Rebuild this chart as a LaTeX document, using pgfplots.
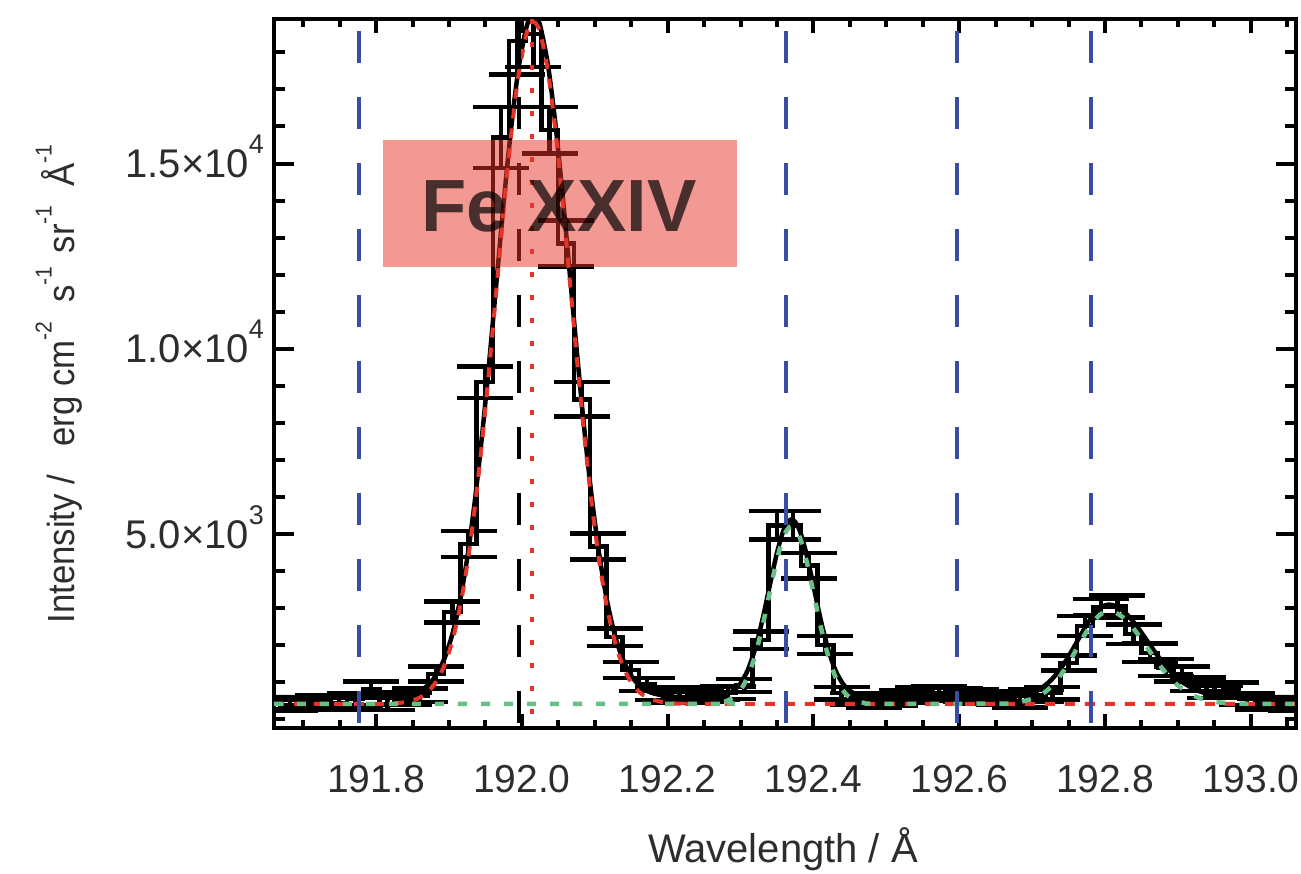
\documentclass[border=0pt]{standalone}
\usepackage{fontspec}
\setmainfont{Liberation Sans}
\usepackage{pgfplots}
\pgfplotsset{compat=1.18}
\definecolor{idlblue}{RGB}{56,78,165}
\definecolor{idlred}{RGB}{232,52,40}
\definecolor{idlgreen}{RGB}{104,192,136}
\definecolor{lab}{RGB}{45,45,45}
\newcommand{\tsup}[1]{\raisebox{0.6em}{\fontsize{13.5}{14}\selectfont #1}}
\newcommand{\lsup}[1]{\raisebox{0.62em}{\fontsize{11.5}{12}\selectfont #1}}
\begin{document}
\begin{tikzpicture}
\path[use as bounding box] (-137pt,-72.5pt) rectangle (513.5pt,364pt);
\begin{axis}[
  at={(0pt,0pt)}, anchor=south west,
  scale only axis, width=511pt, height=354.5pt,
  xmin=191.66, xmax=193.062, ymin=-230, ymax=18900,
  scaled y ticks=false, scaled x ticks=false,
  axis line style={line width=2pt},
  tick align=inside,
  tick style={line width=2pt, black},
  major tick length=10pt, minor tick length=5.5pt,
  xtick style={/pgfplots/major tick length=7pt,/pgfplots/minor tick length=4pt},
  xtick={191.8,192.0,192.2,192.4,192.6,192.8,193.0},
  xticklabels={191.8,192.0,192.2,192.4,192.6,192.8,193.0},
  minor xtick={191.70,191.75,191.85,191.90,191.95,192.05,192.10,192.15,192.25,192.30,192.35,192.45,192.50,192.55,192.65,192.70,192.75,192.85,192.90,192.95,193.05},
  ytick={5000,10000,15000},
  yticklabels={5.0×10\tsup{3},1.0×10\tsup{4},1.5×10\tsup{4}},
  minor ytick={0,1000,2000,3000,4000,6000,7000,8000,9000,11000,12000,13000,14000,16000,17000,18000},
  tick label style={font=\fontsize{19.5}{23}\selectfont, text=lab},
  xticklabel style={yshift=-15pt},
  yticklabel style={anchor=base east, yshift=-7pt, xshift=-1.5pt, font=\fontsize{20}{23}\selectfont},
  clip=true,
]
% spectrum (histogram with error bars)
\addplot[black, line width=2.25pt, const plot mark mid,
  error bars/.cd, y dir=both, y explicit, error mark=|,
  error bar style={line width=2.25pt, black},
  error mark options={line width=2.25pt, mark size=14pt, black}]
  table[x index=0, y index=1, y error index=2] {
191.6599 420 150
191.6822 380 150
191.7044 450 160
191.7267 500 160
191.7489 430 160
191.7712 550 170
191.7934 820 200
191.8157 420 160
191.8379 560 170
191.8602 650 180
191.8824 1230 200
191.9047 2900 280
191.9269 4730 350
191.9492 9100 430
191.9714 15700 820
191.9937 18300 900
192.0159 18500 900
192.0382 15900 630
192.0604 12840 620
192.0827 8640 470
192.1049 4670 350
192.1272 2220 240
192.1494 1330 215
192.1717 940 175
192.1939 700 170
192.2162 600 160
192.2384 640 165
192.2607 700 170
192.2829 720 170
192.3052 920 175
192.3274 2140 240
192.3497 5240 380
192.3719 5240 380
192.3942 4150 340
192.4164 2010 240
192.4387 710 170
192.4609 560 160
192.4832 480 160
192.5054 520 160
192.5277 620 165
192.5499 700 170
192.5722 720 170
192.5944 680 170
192.6167 650 165
192.6389 600 165
192.6612 560 160
192.6834 480 160
192.7057 650 165
192.7279 710 170
192.7502 1520 200
192.7724 2520 270
192.7947 3030 220
192.8169 3050 300
192.8392 2300 260
192.8614 1800 250
192.8837 1400 230
192.9059 1230 200
192.9282 950 180
192.9504 750 170
192.9727 820 180
192.9949 550 160
193.0172 430 160
193.0394 400 150
193.0617 380 150
};
% total fit
\addplot[black, line width=2.25pt, smooth] coordinates {
(191.66,600) (191.80,601) (191.816,608) (191.836,636) (191.856,734) (191.866,843) (191.876,1025) (191.886,1314) (191.896,1756) (191.906,2398) (191.916,3292) (191.926,4477) (191.936,5976) (191.946,7774) (191.956,9811) (191.966,11979) (191.976,14128) (191.986,16076) (191.996,17638) (192.006,18650) (192.011,18912) (192.016,19000) (192.021,18912) (192.026,18650) (192.036,17638) (192.046,16076) (192.056,14128) (192.066,11979) (192.076,9811) (192.086,7774) (192.096,5976) (192.106,4477) (192.116,3292) (192.126,2398) (192.136,1756) (192.146,1314) (192.156,1025) (192.166,843) (192.176,734) (192.196,636) (192.216,608) (192.25,600) (192.27,626) (192.28,671) (192.29,772) (192.30,975) (192.31,1338) (192.32,1907) (192.33,2688) (192.34,3605) (192.35,4498) (192.36,5157) (192.37,5400) (192.38,5157) (192.39,4498) (192.40,3605) (192.41,2688) (192.42,1907) (192.43,1338) (192.44,975) (192.45,772) (192.46,671) (192.47,626) (192.49,602) (192.66,608) (192.68,637) (192.705,767) (192.715,880) (192.725,1043) (192.735,1265) (192.745,1544) (192.755,1871) (192.765,2222) (192.775,2560) (192.785,2844) (192.795,3033) (192.805,3100) (192.815,3056) (192.825,2928) (192.835,2730) (192.845,2480) (192.855,2202) (192.865,1917) (192.875,1645) (192.885,1400) (192.895,1191) (192.905,1021) (192.925,793) (192.945,676) (192.965,626) (192.99,605) (193.062,600)
};
% Fe XXIV component
\addplot[idlred, line width=2pt, dash pattern=on 5pt off 5pt, smooth] coordinates {
(191.66,420) (191.80,421) (191.816,428) (191.836,456) (191.856,554) (191.866,663) (191.876,845) (191.886,1134) (191.896,1576) (191.906,2218) (191.916,3112) (191.926,4297) (191.936,5796) (191.946,7594) (191.956,9631) (191.966,11799) (191.976,13948) (191.986,15896) (191.996,17458) (192.006,18470) (192.011,18732) (192.016,18820) (192.021,18732) (192.026,18470) (192.036,17458) (192.046,15896) (192.056,13948) (192.066,11799) (192.076,9631) (192.086,7594) (192.096,5796) (192.106,4297) (192.116,3112) (192.126,2218) (192.136,1576) (192.146,1134) (192.156,845) (192.166,663) (192.176,554) (192.196,456) (192.216,428) (192.26,420) (193.062,420)
};
% other components
\addplot[idlgreen, line width=2.25pt, dash pattern=on 4.5pt off 7pt, smooth] coordinates {
(191.66,420) (192.25,420) (192.27,446) (192.28,491) (192.29,592) (192.30,795) (192.31,1158) (192.32,1727) (192.33,2508) (192.34,3425) (192.35,4318) (192.36,4977) (192.37,5220) (192.38,4977) (192.39,4318) (192.40,3425) (192.41,2508) (192.42,1727) (192.43,1158) (192.44,795) (192.45,592) (192.46,491) (192.47,446) (192.49,422) (192.66,428) (192.68,457) (192.705,587) (192.715,700) (192.725,863) (192.735,1085) (192.745,1364) (192.755,1691) (192.765,2042) (192.775,2380) (192.785,2664) (192.795,2853) (192.805,2920) (192.815,2876) (192.825,2748) (192.835,2550) (192.845,2300) (192.855,2022) (192.865,1737) (192.875,1465) (192.885,1220) (192.895,1011) (192.905,841) (192.925,613) (192.945,496) (192.965,446) (192.99,425) (193.062,420)
};
% reference lines
\draw[idlblue, line width=2pt, dash pattern=on 16pt off 17pt, dash phase=27pt] (axis cs:191.777,18900) -- (axis cs:191.777,-230);
\draw[idlblue, line width=2pt, dash pattern=on 16pt off 17pt, dash phase=27pt] (axis cs:192.363,18900) -- (axis cs:192.363,-230);
\draw[idlblue, line width=2pt, dash pattern=on 16pt off 17pt, dash phase=27pt] (axis cs:192.597,18900) -- (axis cs:192.597,-230);
\draw[idlblue, line width=2pt, dash pattern=on 16pt off 17pt, dash phase=27pt] (axis cs:192.781,18900) -- (axis cs:192.781,-230);
\draw[black, line width=2pt, dash pattern=on 16pt off 17pt, dash phase=27pt] (axis cs:191.996,18900) -- (axis cs:191.996,-230);
\draw[idlred, line width=2pt, dash pattern=on 2.5pt off 9pt] (axis cs:192.014,18900) -- (axis cs:192.014,-230);
% label box
\fill[idlred, opacity=0.5] (axis cs:191.8096,12197) rectangle (axis cs:192.2945,15647);
\node[text=black, text opacity=0.7, font=\bfseries\fontsize{37}{40}\selectfont] at (axis cs:192.0507,13854) {Fe XXIV};
\end{axis}
\node[anchor=base, rotate=90, xscale=0.92, text=lab, font=\fontsize{18.9}{22}\selectfont] at (-99.5pt,172pt)
  {Intensity / \hspace{10pt}erg cm\lsup{-2}\hspace{5pt} s\lsup{-1}\hspace{2pt} sr\lsup{-1}\hspace{5pt} Å\lsup{-1}};
\node[anchor=base, text=lab, font=\fontsize{20}{24}\selectfont] at (254.5pt,-67pt) {Wavelength / Å};
\end{tikzpicture}
\end{document}
